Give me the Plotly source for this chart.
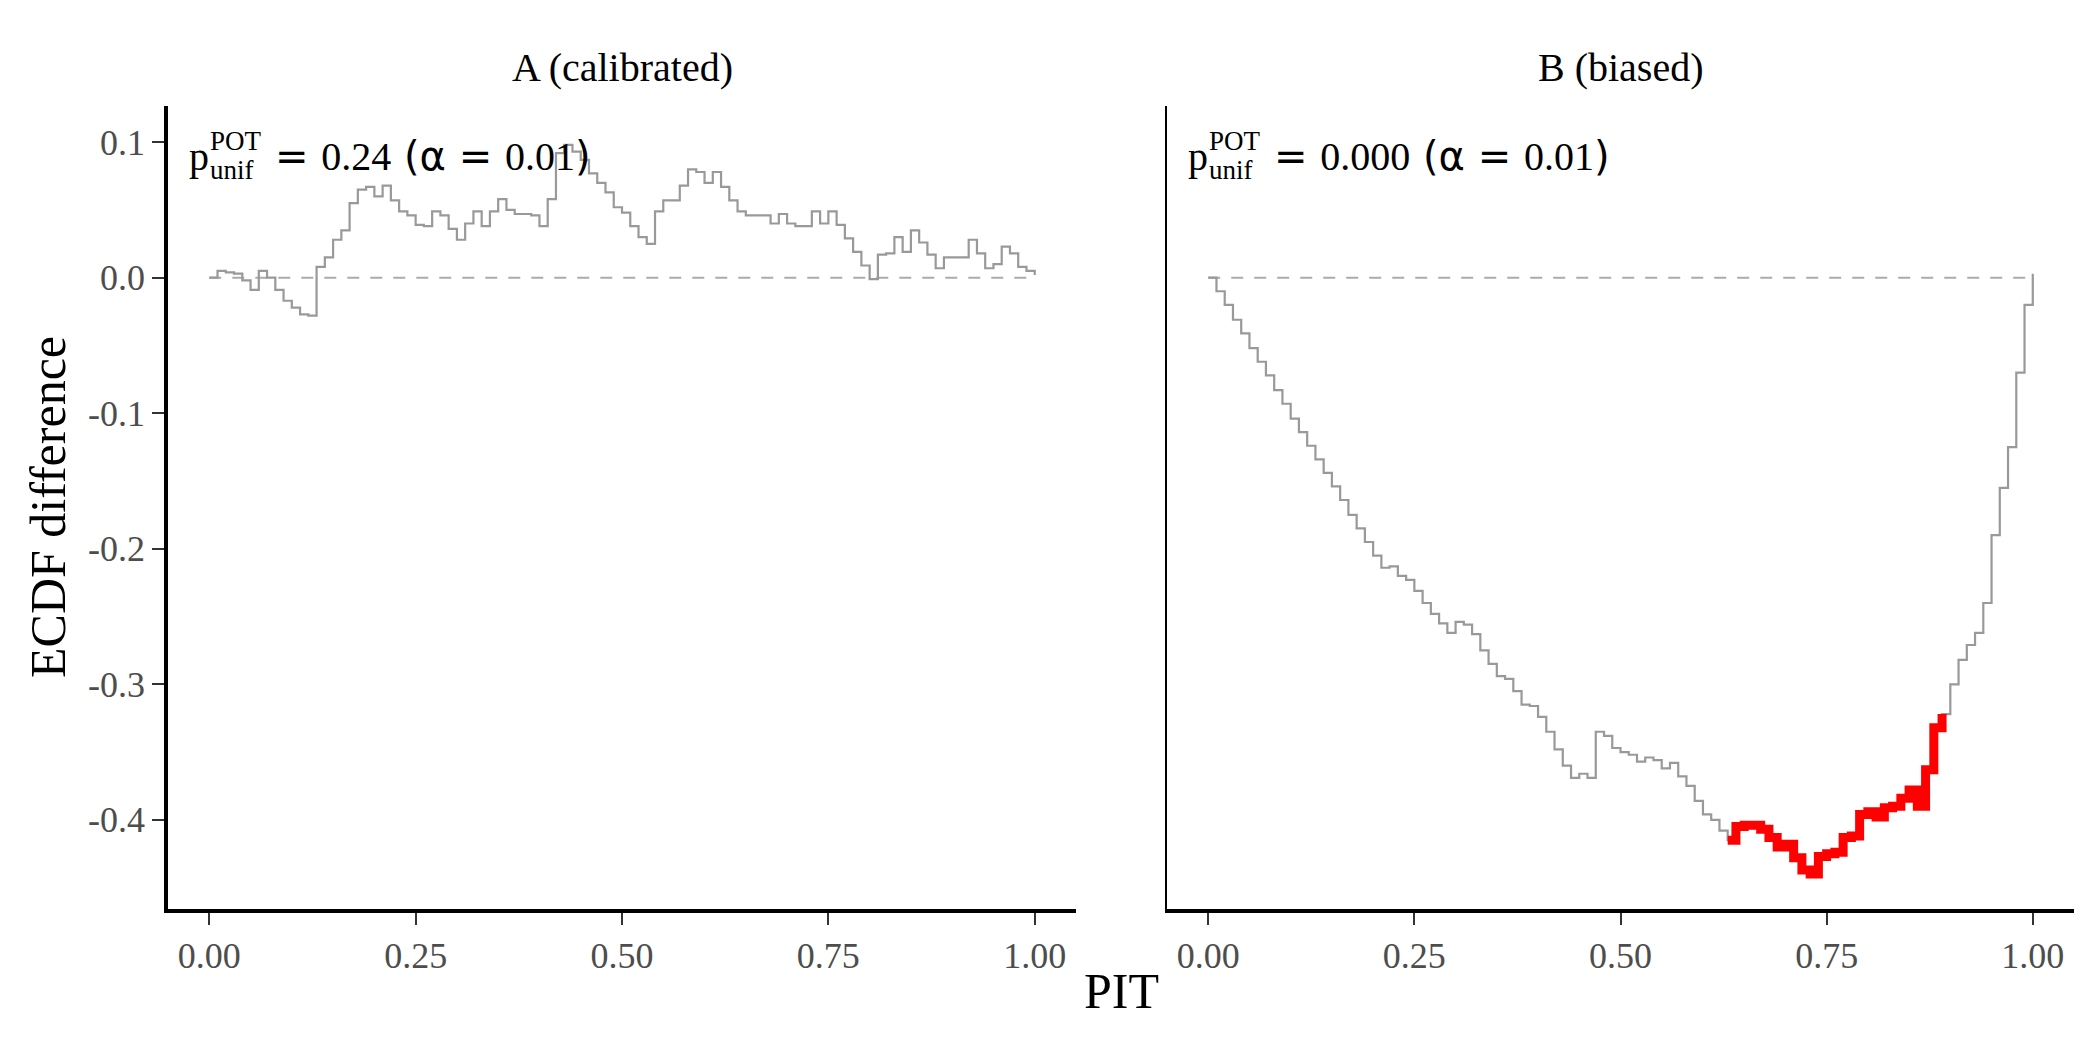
import numpy as np
import plotly.graph_objects as go

# PIT grid (both panels) and ECDF difference
pit = [round(0.01 * i, 2) for i in range(101)]

ecdf_diff_a = [
    0.000, 0.005, 0.004, 0.003, -0.002, -0.009, 0.005, 0.000, -0.009, -0.017,
    -0.022, -0.027, -0.028, 0.008, 0.015, 0.028, 0.035, 0.055, 0.065, 0.067,
    0.060, 0.068, 0.057, 0.049, 0.046, 0.039, 0.038, 0.049, 0.046, 0.036,
    0.028, 0.040, 0.049, 0.038, 0.049, 0.058, 0.050, 0.047, 0.047, 0.046,
    0.038, 0.058, 0.092, 0.098, 0.093, 0.087, 0.077, 0.070, 0.063, 0.052,
    0.048, 0.038, 0.030, 0.025, 0.049, 0.057, 0.057, 0.068, 0.080, 0.078,
    0.070, 0.078, 0.067, 0.057, 0.049, 0.046, 0.046, 0.046, 0.040, 0.047,
    0.040, 0.038, 0.038, 0.049, 0.040, 0.049, 0.039, 0.029, 0.019, 0.009,
    -0.001, 0.017, 0.018, 0.030, 0.019, 0.035, 0.026, 0.017, 0.007, 0.015,
    0.015, 0.015, 0.028, 0.018, 0.007, 0.010, 0.023, 0.018, 0.008, 0.005,
    0.002,
]

ecdf_diff_b = [
    0.000, -0.010, -0.020, -0.031, -0.041, -0.052, -0.062, -0.072, -0.083, -0.093,
    -0.104, -0.114, -0.124, -0.134, -0.144, -0.154, -0.164, -0.175, -0.185, -0.195,
    -0.205, -0.214, -0.213, -0.220, -0.223, -0.231, -0.240, -0.248, -0.255, -0.262,
    -0.254, -0.256, -0.263, -0.275, -0.285, -0.294, -0.296, -0.305, -0.315, -0.316,
    -0.324, -0.335, -0.348, -0.360, -0.369, -0.366, -0.369, -0.335, -0.338, -0.347,
    -0.350, -0.352, -0.357, -0.354, -0.356, -0.362, -0.358, -0.368, -0.375, -0.386,
    -0.396, -0.400, -0.408, -0.415, -0.405, -0.404, -0.404, -0.407, -0.413, -0.420,
    -0.418, -0.428, -0.437, -0.440, -0.427, -0.425, -0.424, -0.413, -0.412, -0.396,
    -0.394, -0.398, -0.391, -0.390, -0.384, -0.378, -0.390, -0.363, -0.332, -0.322,
    -0.300, -0.282, -0.271, -0.262, -0.240, -0.190, -0.155, -0.125, -0.070, -0.020,
    0.003,
]

# part of panel B outside the simultaneous band (drawn red)
red_from, red_to = 0.63, 0.89

panels = ["A (calibrated)", "B (biased)"]
p_values = ["0.24", "0.000"]
alpha = "0.01"

x_ticks = [0, 0.25, 0.5, 0.75, 1]
x_ticktext = ["0.00", "0.25", "0.50", "0.75", "1.00"]
y_ticks = [-0.4, -0.3, -0.2, -0.1, 0.0, 0.1]
y_ticktext = ["-0.4", "-0.3", "-0.2", "-0.1", "0.0", "0.1"]

SERIF = "Liberation Serif"
SANS = "DejaVu Sans"
# page body has an 8px margin, so the figure is a bit smaller than the window
OFF = 8
W, H = 2100 - OFF, 1050 - OFF


def px(x):
    return (x - OFF) / W


def py(y):
    return 1 - (y - OFF) / H


fig = go.Figure()

for i, ys in enumerate([ecdf_diff_a, ecdf_diff_b]):
    xa = "x" if i == 0 else "x2"
    ya = "y" if i == 0 else "y2"
    fig.add_trace(go.Scatter(x=[0, 1], y=[0, 0], mode="lines", xaxis=xa, yaxis=ya,
                             line=dict(color="#ABABAB", width=2, dash="12px,11px"),
                             hoverinfo="skip"))
    fig.add_trace(go.Scatter(x=pit, y=ys, mode="lines", xaxis=xa, yaxis=ya,
                             line=dict(color="#999999", width=2.2, shape="hv")))

xb = np.array(pit)
yb = np.array(ecdf_diff_b)
mask = (xb >= red_from - 1e-9) & (xb <= red_to + 1e-9)
fig.add_trace(go.Scatter(x=xb[mask], y=yb[mask], mode="lines", xaxis="x2", yaxis="y2",
                         line=dict(color="#FF0000", width=9, shape="hv")))

ydom = [py(909), py(106)]
xdoms = [[px(168), px(1076)], [px(1167), px(2074)]]
yrange = [-0.4658, 0.1267]

common_x = dict(range=[-0.05, 1.05], tickvals=x_ticks, ticktext=x_ticktext,
                showgrid=False, zeroline=False, showline=True, linecolor="black",
                linewidth=3.5, ticks="outside", ticklen=12, tickwidth=2,
                tickcolor="#333333",
                tickfont=dict(family=SERIF, size=36, color="#4D4D4D"))

fig.update_layout(
    width=W, height=H,
    margin=dict(l=0, r=0, t=0, b=0),
    paper_bgcolor="white", plot_bgcolor="white",
    showlegend=False,
    xaxis=dict(domain=xdoms[0], anchor="y", **common_x),
    xaxis2=dict(domain=xdoms[1], anchor="y2", **common_x),
    yaxis=dict(domain=ydom, range=yrange, anchor="x", tickvals=y_ticks,
               ticktext=y_ticktext, showgrid=False, zeroline=False,
               showline=True, linecolor="black", linewidth=3.5,
               ticks="outside", ticklen=12, tickwidth=2, tickcolor="#333333",
               tickfont=dict(family=SERIF, size=36, color="#4D4D4D")),
    yaxis2=dict(domain=ydom, range=yrange, anchor="x2", matches="y",
                showticklabels=False, ticks="", showgrid=False, zeroline=False,
                showline=True, linecolor="black", linewidth=1.5),
)

ann = []
for i, title in enumerate(panels):
    xd = xdoms[i]
    ann.append(dict(text=title, x=(xd[0] + xd[1]) / 2, y=py(67),
                    xref="paper", yref="paper", showarrow=False,
                    xanchor="center", yanchor="middle",
                    font=dict(family=SERIF, size=40, color="black")))

    xr = "x" if i == 0 else "x2"
    yr = "y" if i == 0 else "y2"
    base = dict(x=-0.027, y=0.0895, xref=xr, yref=yr, showarrow=False,
                xanchor="left", yanchor="middle")
    ann.append(dict(base, text="p", font=dict(family=SERIF, size=40, color="black")))
    ann.append(dict(base, text="POT", xshift=21, yshift=15,
                    font=dict(family=SERIF, size=27, color="black")))
    ann.append(dict(base, text="unif", xshift=21, yshift=-14,
                    font=dict(family=SERIF, size=27, color="black")))
    rest = ("<span style='font-family:%s'>= </span>%s"
            "<span style='font-family:%s'> (α = </span>%s"
            "<span style='font-family:%s'>)</span>") % (SANS, p_values[i], SANS, alpha, SANS)
    ann.append(dict(base, text=rest, xshift=86,
                    font=dict(family=SERIF, size=40, color="black")))

ann.append(dict(text="ECDF difference", x=px(48), y=py(507), xref="paper",
                yref="paper", showarrow=False, textangle=-90,
                xanchor="center", yanchor="middle",
                font=dict(family=SERIF, size=50, color="black")))
ann.append(dict(text="PIT", x=px(1121), y=py(991), xref="paper", yref="paper",
                showarrow=False, xanchor="center", yanchor="middle",
                font=dict(family=SERIF, size=50, color="black")))

fig.update_layout(annotations=ann)

fig.write_html("out.html")
